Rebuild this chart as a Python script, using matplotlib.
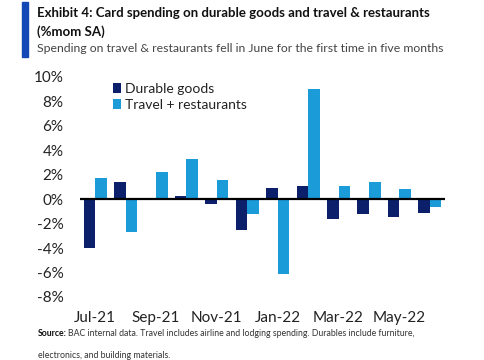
import numpy as np
import matplotlib
matplotlib.use("Agg")
from matplotlib import pyplot as plt
from matplotlib.patches import Rectangle

months = ['Jul-21', 'Aug-21', 'Sep-21', 'Oct-21', 'Nov-21', 'Dec-21',
          'Jan-22', 'Feb-22', 'Mar-22', 'Apr-22', 'May-22', 'Jun-22']
durable = [-4.0, 1.4, 0.1, 0.25, -0.4, -2.5, 0.9, 1.1, -1.65, -1.25, -1.45, -1.1]
travel = [1.7, -2.7, 2.2, 3.3, 1.6, -1.2, -6.1, 9.0, 1.1, 1.4, 0.8, -0.6]
yticks = [10, 8, 6, 4, 2, 0, -2, -4, -6, -8]

navy = '#0c1f6b'
light = '#1c9bd9'

plt.rcParams['font.family'] = ['Lato', 'DejaVu Sans']

fig = plt.figure(figsize=(4.85, 3.6), dpi=100)
ax = fig.add_axes([80/485, 1-297/360, 365/485, 220/360])

x = np.arange(len(months))
w = 0.38
ax.bar(x - w/2, durable, w, color=navy, label='Durable goods')
ax.bar(x + w/2, travel, w, color=light, label='Travel + restaurants')
ax.axhline(0, color='black', lw=1.6)

ax.set_xlim(-0.5, len(months) - 0.5)
ax.set_ylim(-8, 10)
ax.set_yticks(yticks)
ax.set_yticklabels([f'{t}%' for t in yticks], fontsize=11, color='#222222')
ax.set_xticks(x[::2])
ax.set_xticklabels(months[::2], fontsize=11, color='#222222')
ax.tick_params(axis='x', length=0, pad=10)
ax.tick_params(axis='y', length=0, pad=12)
for s in ax.spines.values():
    s.set_visible(False)

ax.legend(loc='upper left', bbox_to_anchor=(0.055, 1.03), frameon=False,
          fontsize=10, handlelength=0.6, handleheight=0.75, handletextpad=0.3,
          labelspacing=0.3, labelcolor='#222222')

# header
fig.patches.append(Rectangle((22/485, 1-57/360), 6/485, 55/360,
                             transform=fig.transFigure, color='#1448b4'))
fig.text(37/485, 1-13/360, 'Exhibit 4: Card spending on durable goods and travel & restaurants',
         fontsize=9.5, fontweight='bold', va='center', color='#111111')
fig.text(37/485, 1-32/360, '(%mom SA)', fontsize=9.5, fontweight='bold',
         va='center', color='#111111')
fig.text(37/485, 1-49/360,
         'Spending on travel & restaurants fell in June for the first time in five months',
         fontsize=8.8, va='center', color='#444444')

# source
fig.text(38/485, 1-333/360, 'Source:', fontsize=6.3, fontweight='bold', va='center',
         color='#111111')
fig.text(68/485, 1-333/360,
         'BAC internal data. Travel includes airline and lodging spending. Durables include furniture,',
         fontsize=6.3, va='center', color='#333333')
fig.text(38/485, 1-356/360, 'electronics, and building materials.', fontsize=6.3,
         va='center', color='#333333')

fig.savefig('out.png', dpi=100)
